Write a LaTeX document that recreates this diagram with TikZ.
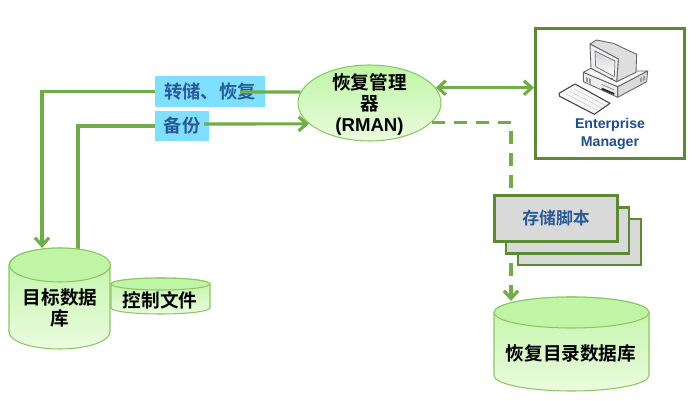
\documentclass[tikz,border=0pt]{standalone}
\usepackage{fontspec}
\usepackage{tikz}
\usetikzlibrary{positioning}
\usetikzlibrary{arrows.meta}
\usetikzlibrary{shapes.geometric}
\newfontfamily\cjkfont{Noto Sans CJK SC}[BoldFont={Noto Sans CJK SC Bold}]
\newfontfamily\latfont{Liberation Sans}
\definecolor{linkgreen}{HTML}{70AD47}
\definecolor{boxgreen}{HTML}{5B8A32}
\definecolor{edgegreen}{HTML}{8CC664}
\definecolor{fillhigh}{HTML}{BFF5A5}
\definecolor{filllow}{HTML}{EBFBDF}
\definecolor{labelblue}{HTML}{7FDFFF}
\definecolor{textblue}{HTML}{2A5A96}
\definecolor{emblue}{HTML}{1F4E8C}
\definecolor{stackgrey}{HTML}{D9D9D9}
\tikzset{
  link/.style={line width=1.8pt, linkgreen},
  dbbody/.style={draw=edgegreen, line width=0.6pt, shade, top color=fillhigh, bottom color=filllow},
  dbtop/.style={draw=edgegreen, line width=0.6pt, fill=fillhigh},
  tagbox/.style={fill=labelblue, inner sep=0pt, text=textblue, font=\cjkfont\bfseries\fontsize{10.4}{12}\selectfont},
  sheet/.style={draw=boxgreen, line width=1.6pt, fill=stackgrey, minimum width=2.46cm, minimum height=0.92cm, inner sep=0pt},
  blacktext/.style={font=\cjkfont\bfseries\fontsize{10.6}{11.6}\selectfont, text=black, align=center},
  pcedge/.style={draw=black!60, line width=0.5pt, line join=round},
}
\begin{document}
\begin{tikzpicture}[x=0.02cm, y=-0.02cm, >={Straight Barb[length=4.5pt,width=8pt]}]
    \useasboundingbox (0,0) rectangle (697,401);

    % Free ends of the links
    \coordinate (tgtin) at (42,248);
    \coordinate (tgtout) at (78,250);
    \coordinate (catin) at (511,301);
    \coordinate (dumpover) at (240,92);
    \coordinate (backupover) at (204,124);

    % Nodes
    \node at (369.5,103) (rman) [ellipse, dbbody, minimum width=2.86cm, minimum height=1.52cm, inner sep=0pt] {};
    \node at (369.5,104.5) (rmantext) [blacktext, align=center, font=\cjkfont\bfseries\fontsize{10.6}{12.2}\selectfont] {恢复管理\\器\\{\latfont\bfseries (RMAN)}};
    \node at (210,91.5) (dump) [tagbox, minimum width=2.2cm, minimum height=0.62cm] {转储、恢复};
    \node at (182,126) (backup) [tagbox, minimum width=1.08cm, minimum height=0.6cm] {备份};
    \node at (610,93.5) (em) [draw=boxgreen, line width=1.6pt, fill=white, minimum width=2.98cm, minimum height=2.6cm] {};

    % Arrows
    \draw[link, ->] (dump.west) -| (tgtin);
    \draw[link] (tgtout) |- (backup.west);
    \draw[link] (dumpover) -- (rman.171);
    \draw[link, ->] (backupover) -- (rman.199);
    \draw[link, <->] (rman.13) -- (rman.13 -| em.west);
    \draw[link, ->, dash pattern=on 7.4pt off 5.1pt] (rman.-17) -| (catin);

    % Stacked scripts
    \node at (579.5,242) (sheetc) [sheet] {};
    \node at (567.5,230.5) (sheetb) [sheet] {};
    \node at (556,218.5) (sheeta) [sheet, text=textblue, font=\cjkfont\bfseries\fontsize{9.6}{11}\selectfont] {存储脚本};

    % Cylinders
    \draw[dbbody] (9,265) -- (9,332) arc[start angle=180, end angle=0, x radius=50.5, y radius=17] -- (110,265) arc[start angle=0, end angle=-180, x radius=50.5, y radius=17] -- cycle;
    \draw[dbtop] (60,265) ellipse [x radius=50.5, y radius=17];
    \node at (60,308) (tgttext) [blacktext] {目标数据\\库};
    \draw[dbbody] (111,284) -- (111,308) arc[start angle=180, end angle=0, x radius=49.5, y radius=6] -- (210,284) arc[start angle=0, end angle=-180, x radius=49.5, y radius=6] -- cycle;
    \draw[dbtop] (160.5,284) ellipse [x radius=49.5, y radius=6];
    \node at (160,300) (ctltext) [blacktext] {控制文件};
    \draw[dbbody] (494,312.5) -- (494,375.5) arc[start angle=180, end angle=0, x radius=77.5, y radius=15.5] -- (649,312.5) arc[start angle=0, end angle=-180, x radius=77.5, y radius=15.5] -- cycle;
    \draw[dbtop] (571.5,312.5) ellipse [x radius=77.5, y radius=15.5];
    \node at (571,353) (cattext) [blacktext] {恢复目录数据库};

    % Enterprise Manager text
    \node at (610,133.5) (emtext) [font=\latfont\bfseries\fontsize{8.05}{10.2}\selectfont, text=emblue, align=center] {Enterprise\\Manager};

    % Computer
    \begin{scope}[shift={(555,35)}, x=0.00667cm, y=-0.00667cm]
        % base
        \draw[pcedge, fill=black!14] (188,155) -- (278,108) -- (275,140) -- (188,187) -- cycle;
        \draw[pcedge, fill=black!7] (85,112) -- (188,155) -- (188,187) -- (85,140) -- cycle;
        \draw[pcedge, fill=black!3] (85,112) -- (108,100) -- (185,140) -- (245,108) -- (278,108) -- (188,155) -- cycle;
        \foreach \vent in {0,4,8,12} {
            \draw[black!40, line width=0.25pt] (94+\vent,126+0.5*\vent) -- (94+\vent,140+0.5*\vent);
            \draw[black!40, line width=0.25pt] (256+\vent,128-0.5*\vent) -- (256+\vent,142-0.5*\vent);
        }
        \draw[black!40, line width=0.5pt] (140,148) -- (178,165);
        \fill[black!85] (140,158) -- (178,174) -- (178,180) -- (140,164) -- cycle;
        % monitor
        \draw[pcedge, fill=black!13] (125,15) -- (175,25) -- (245,58) -- (243,112) -- (185,140) -- (190,72) -- (105,27) -- cycle;
        \draw[pcedge, fill=black!6] (105,27) -- (190,72) -- (185,140) -- (108,100) -- cycle;
        \draw[black!55, line width=0.4pt, top color=blue!18!black!18, bottom color=white] (120,48) -- (180,78) -- (178,125) -- (122,95) -- cycle;
        \fill[green!50!black] (170,131) circle [radius=3];
        % keyboard
        \draw[draw=black!75, line width=0.6pt, line join=round, fill=black!3] (12,175) -- (60,147) -- (165,205) -- (118,238) -- (14,184) -- cycle;
        \foreach \row in {0,1,2} {
            \draw[black!25, line width=0.2pt] (32+13*\row,176-7*\row) -- (127+13*\row,226-7*\row);
        }
    \end{scope}
\end{tikzpicture}
\end{document}
